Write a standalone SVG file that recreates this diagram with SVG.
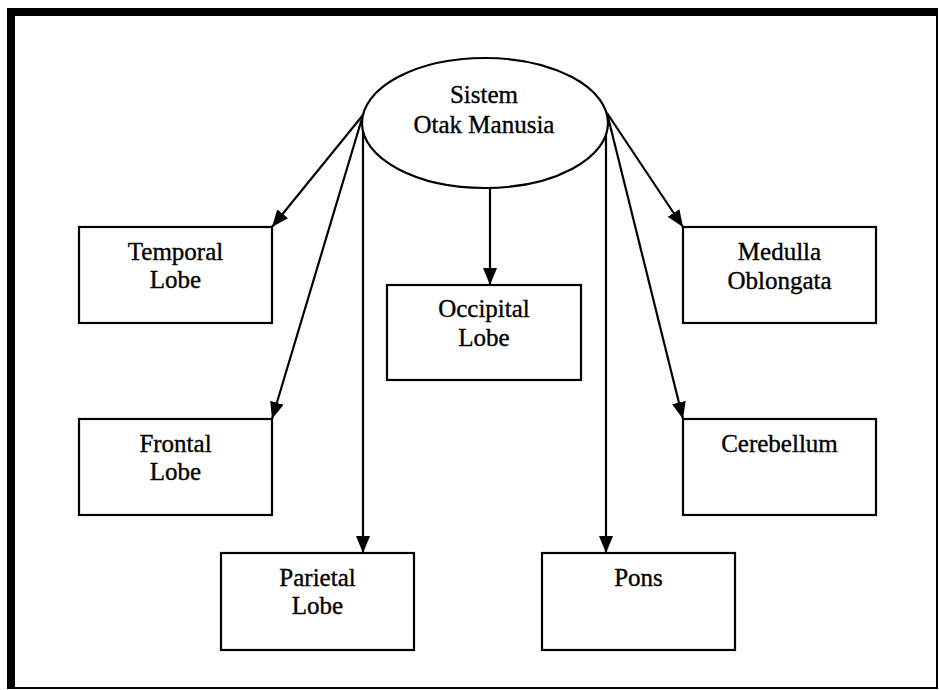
<svg xmlns="http://www.w3.org/2000/svg" width="939" height="690" viewBox="0 0 939 690">
<style>
.box{fill:#fff;stroke:#000;stroke-width:2.2}
.lbl{font-family:"Liberation Serif","Times New Roman",serif;font-size:25px;fill:#000;stroke:#000;stroke-width:0.35;text-anchor:middle}
.con{stroke:#000;stroke-width:2.2;fill:none;marker-end:url(#ah)}
</style>
<defs>
<marker id="ah" viewBox="0 0 17 14" refX="17" refY="7" markerWidth="17" markerHeight="14" markerUnits="userSpaceOnUse" orient="auto">
<path d="M0,0 L17,7 L0,14 Z" fill="#000"/>
</marker>
</defs>
<rect x="0" y="0" width="939" height="690" fill="#fff"/>
<g id="frame">
<rect x="7" y="8" width="931" height="8" fill="#000"/>
<rect x="7" y="8" width="8" height="681" fill="#000"/>
<rect x="936" y="8" width="2" height="681" fill="#000"/>
<rect x="7" y="687" width="931" height="2" fill="#000"/>
</g>
<g id="connectors">
<line class="con" x1="363" y1="115" x2="272" y2="227"/>
<line class="con" x1="363" y1="115" x2="272" y2="419"/>
<line class="con" x1="363" y1="120" x2="363" y2="553"/>
<line class="con" x1="490" y1="188" x2="490" y2="285"/>
<line class="con" x1="606" y1="120" x2="606" y2="553"/>
<line class="con" x1="607" y1="113" x2="683" y2="227"/>
<line class="con" x1="607" y1="113" x2="683" y2="419"/>
</g>
<g id="root">
<ellipse class="box" cx="485" cy="123" rx="123" ry="65"/>
<text class="lbl" x="484" y="103">Sistem</text>
<text class="lbl" x="484" y="133">Otak Manusia</text>
</g>
<g id="temporal">
<rect class="box" x="79" y="227" width="193" height="96"/>
<text class="lbl" x="175.5" y="260">Temporal</text>
<text class="lbl" x="175.5" y="288">Lobe</text>
</g>
<g id="frontal">
<rect class="box" x="79" y="419" width="193" height="96"/>
<text class="lbl" x="175.5" y="452">Frontal</text>
<text class="lbl" x="175.5" y="480">Lobe</text>
</g>
<g id="parietal">
<rect class="box" x="221" y="553" width="193" height="97"/>
<text class="lbl" x="317.5" y="586">Parietal</text>
<text class="lbl" x="317.5" y="614">Lobe</text>
</g>
<g id="occipital">
<rect class="box" x="387" y="285" width="194" height="95"/>
<text class="lbl" x="484" y="317">Occipital</text>
<text class="lbl" x="484" y="346">Lobe</text>
</g>
<g id="pons">
<rect class="box" x="542" y="553" width="193" height="97"/>
<text class="lbl" x="638.5" y="586">Pons</text>
</g>
<g id="medulla">
<rect class="box" x="683" y="227" width="193" height="96"/>
<text class="lbl" x="779.5" y="260">Medulla</text>
<text class="lbl" x="779.5" y="289">Oblongata</text>
</g>
<g id="cerebellum">
<rect class="box" x="683" y="419" width="193" height="96"/>
<text class="lbl" x="779.5" y="452">Cerebellum</text>
</g>
</svg>
